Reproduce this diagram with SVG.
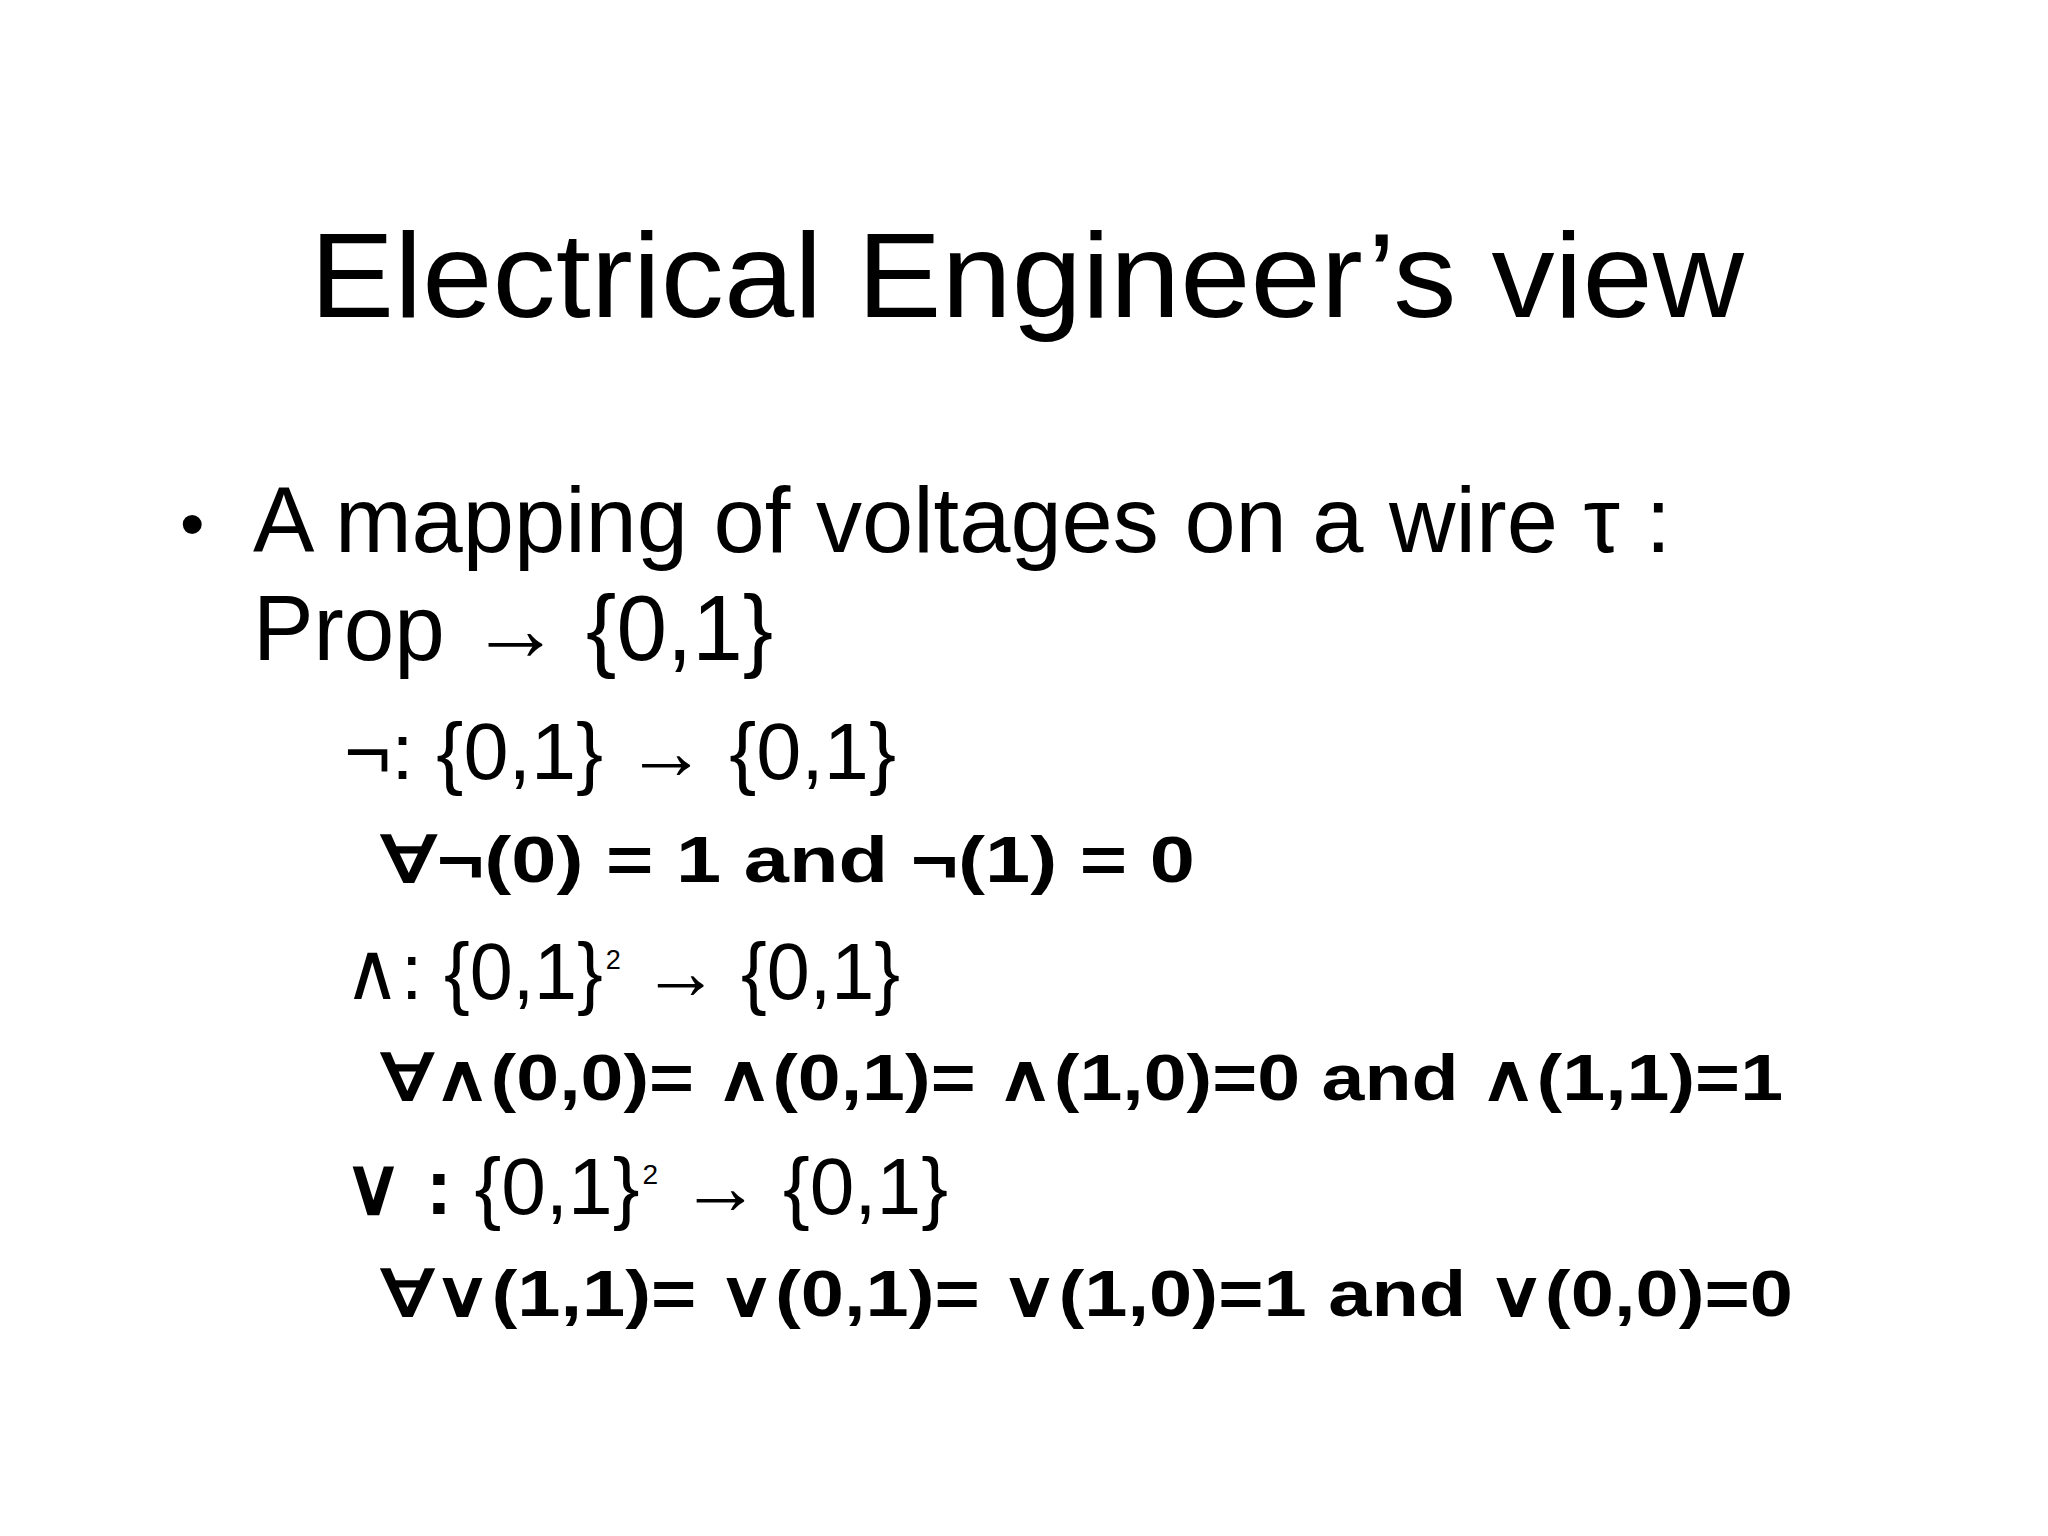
<svg xmlns="http://www.w3.org/2000/svg" width="2048" height="1536" viewBox="0 0 2048 1536">
<style>
.t{font-family:"Liberation Sans",Arial,sans-serif;fill:#000}
.b{font-weight:bold}
</style>
<rect width="2048" height="1536" fill="#fff"/>
<text class="t" x="310" y="317" font-size="120" textLength="1434" lengthAdjust="spacingAndGlyphs">Electrical Engineer’s view</text>
<text class="t" x="180" y="548" font-size="70">•</text>
<text class="t" x="253" y="552" font-size="92" textLength="1418" lengthAdjust="spacingAndGlyphs">A mapping of voltages on a wire τ :</text>
<text class="t" x="253" y="660" font-size="92" textLength="520" lengthAdjust="spacingAndGlyphs">Prop → {0,1}</text>
<text class="t" x="344" y="779" font-size="80" textLength="552" lengthAdjust="spacingAndGlyphs">¬: {0,1} → {0,1}</text>
<text class="t b" x="381" y="882" font-size="64" textLength="814" lengthAdjust="spacingAndGlyphs">∀¬(0) = 1 and ¬(1) = 0</text>
<text class="t" x="344" y="999" font-size="80" textLength="556" lengthAdjust="spacingAndGlyphs">∧: {0,1}<tspan font-size="28" dy="-30" dx="3">2</tspan><tspan dy="30"> → {0,1}</tspan></text>
<text class="t b" x="381" y="1100" font-size="64" textLength="1402" lengthAdjust="spacingAndGlyphs">∀∧(0,0)= ∧(0,1)= ∧(1,0)=0 and ∧(1,1)=1</text>
<text class="t" x="344" y="1214" font-size="80" textLength="604" lengthAdjust="spacingAndGlyphs"><tspan font-weight="bold">∨ :</tspan> {0,1}<tspan font-size="28" dy="-30" dx="3">2</tspan><tspan dy="30"> → {0,1}</tspan></text>
<text class="t b" x="381" y="1316" font-size="64" textLength="1412" lengthAdjust="spacingAndGlyphs">∀∨(1,1)= ∨(0,1)= ∨(1,0)=1 and ∨(0,0)=0</text>
</svg>
